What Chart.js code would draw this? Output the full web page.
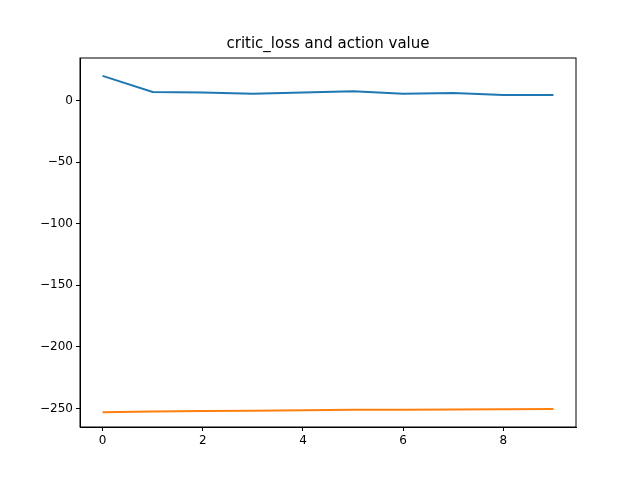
<!DOCTYPE html>
<html>
<head>
<script src="https://cdn.jsdelivr.net/npm/chart.js@4"></script>
<style>body{margin:0;background:#fff}</style>
</head>
<body>
<div style="width:640px;height:480px"><canvas id="myChart"></canvas></div>
<script>
const steps = [0, 1, 2, 3, 4, 5, 6, 7, 8, 9];
const criticLoss = [20, 7, 6.5, 5.5, 6.5, 7.5, 5.5, 6, 4.5, 4.5];
const actionValue = [-253, -252.5, -252, -251.8, -251.5, -251, -251, -250.8, -250.5, -250.3];
const chartTitle = 'critic_loss and action value';

function toPoints(ys) {
  return steps.map((x, i) => ({ x: x, y: ys[i] }));
}

const frame = {
  id: 'frame',
  afterDraw(chart) {
    const c = chart.ctx, a = chart.chartArea;
    c.save();
    c.strokeStyle = '#000';
    c.lineWidth = 1;
    c.strokeRect(a.left, a.top, a.right - a.left, a.bottom - a.top);
    c.fillStyle = '#000';
    c.font = '15px "DejaVu Sans"';
    c.textAlign = 'center';
    c.textBaseline = 'bottom';
    c.fillText(chartTitle, (a.left + a.right) / 2, a.top - 6);
    c.restore();
  }
};

const tickFont = { family: 'DejaVu Sans', size: 12 };
const minus = v => String(v).replace('-', '\u2212');

new Chart(document.getElementById('myChart'), {
  type: 'line',
  data: {
    datasets: [
      { label: 'critic_loss', data: toPoints(criticLoss), borderColor: '#1f77b4', borderWidth: 2, pointRadius: 0, tension: 0 },
      { label: 'action value', data: toPoints(actionValue), borderColor: '#ff7f0e', borderWidth: 2, pointRadius: 0, tension: 0 }
    ]
  },
  options: {
    responsive: true,
    maintainAspectRatio: false,
    animation: false,
    layout: { padding: { top: 58, right: 64, left: 0, bottom: 0 } },
    plugins: { legend: { display: false }, title: { display: false }, tooltip: { enabled: false } },
    scales: {
      x: {
        type: 'linear', min: -0.45, max: 9.45,
        afterBuildTicks: s => { s.ticks = [0, 2, 4, 6, 8].map(v => ({ value: v })); },
        afterFit: s => { s.height = 53; },
        grid: { drawOnChartArea: false, tickLength: 4, color: '#000' },
        border: { color: '#000' },
        ticks: { color: '#000', font: tickFont, maxRotation: 0 }
      },
      y: {
        min: -265, max: 34.5,
        afterBuildTicks: s => { s.ticks = [0, -50, -100, -150, -200, -250].map(v => ({ value: v })); },
        afterFit: s => { s.width = 80; },
        grid: { drawOnChartArea: false, tickLength: 4, color: '#000' },
        border: { color: '#000' },
        ticks: { color: '#000', font: tickFont, callback: minus }
      }
    }
  },
  plugins: [frame]
});
</script>
</body>
</html>
